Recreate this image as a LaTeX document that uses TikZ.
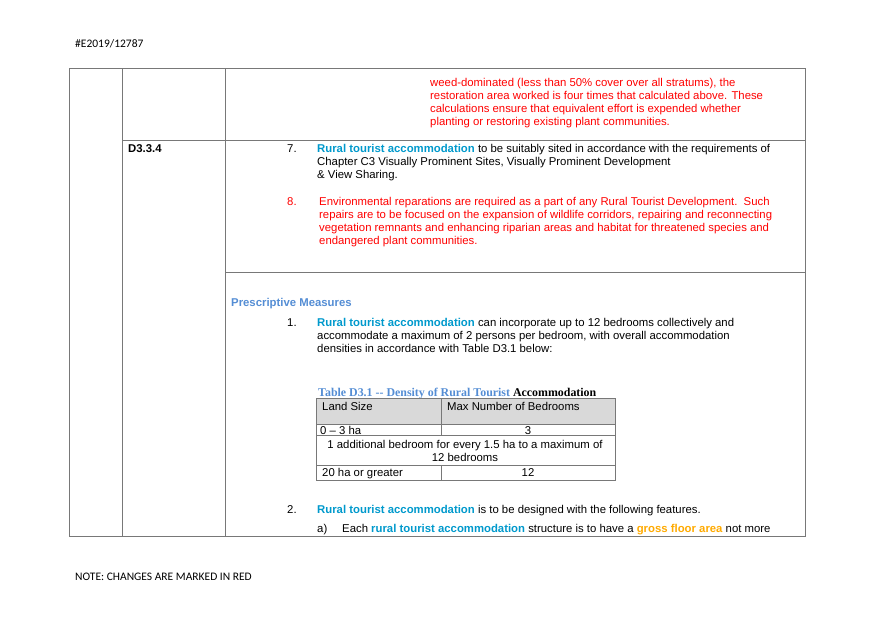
\documentclass[tikz,border=0pt]{standalone}
\usepackage{fontspec}
\setmainfont{Liberation Sans}
\newfontfamily\calfont{Carlito}
\newfontfamily\capfont{Liberation Serif}
\definecolor{redtxt}{RGB}{255,0,0}
\definecolor{bluetxt}{RGB}{0,153,204}
\definecolor{headblue}{RGB}{84,141,212}
\definecolor{goldtxt}{RGB}{255,170,0}
\definecolor{rulegray}{RGB}{120,120,120}
\definecolor{cellgray}{RGB}{217,217,217}
\newcommand{\rta}[1]{\textcolor{bluetxt}{\bfseries #1}}

\begin{document}
\begin{tikzpicture}[
    x=1pt, y=-1pt,
    txt/.style={anchor=base west, inner sep=0pt, font=\fontsize{11.35}{13}\selectfont},
    ctxt/.style={anchor=base, inner sep=0pt, font=\fontsize{11.35}{13}\selectfont},
    rule/.style={draw=rulegray, line width=0.7pt}
]
    \useasboundingbox (0,0) rectangle (875,619);

    % Page header and footer
    \node[txt, font=\calfont\fontsize{11.5}{13}\selectfont] (ref) at (75,47) {\#E2019/12787};
    \node[txt, font=\calfont\fontsize{11.5}{13}\selectfont] (note) at (75,580) {NOTE: CHANGES ARE MARKED IN RED};

    % Outer grid
    \draw[rule] (69,68) rectangle (805,536);
    \draw[rule] (122,68) -- (122,536);
    \draw[rule] (225,68) -- (225,536);
    \draw[rule] (122,140) -- (805,140);
    \draw[rule] (225,272) -- (805,272);

    % Top cell (red)
    \node[txt, text=redtxt] (w1) at (430,86) {weed-dominated (less than 50\% cover over all stratums), the};
    \node[txt, text=redtxt] (w2) at (430,99) {restoration area worked is four times that calculated above. These};
    \node[txt, text=redtxt] (w3) at (430,112) {calculations ensure that equivalent effort is expended whether};
    \node[txt, text=redtxt] (w4) at (430,125) {planting or restoring existing plant communities.};

    % D3.3.4
    \node[txt, font=\fontsize{11.35}{13}\selectfont\bfseries] (clause) at (128,152) {D3.3.4};
    \node[txt] (n7) at (287,152) {7.};
    \node[txt] (s1) at (317,152) {\rta{Rural tourist accommodation} to be suitably sited in accordance with the requirements of};
    \node[txt] (s2) at (317,165) {Chapter C3 Visually Prominent Sites, Visually Prominent Development};
    \node[txt] (s3) at (317,178) {\& View Sharing.};
    \node[txt, text=redtxt] (n8) at (287,205) {8.};
    \node[txt, text=redtxt] (e1) at (319,205) {Environmental reparations are required as a part of any Rural Tourist Development.\ \ Such};
    \node[txt, text=redtxt] (e2) at (319,218) {repairs are to be focused on the expansion of wildlife corridors, repairing and reconnecting};
    \node[txt, text=redtxt] (e3) at (319,231) {vegetation remnants and enhancing riparian areas and habitat for threatened species and};
    \node[txt, text=redtxt] (e4) at (319,244) {endangered plant communities.};

    % Prescriptive measures
    \node[txt, text=headblue, font=\fontsize{11.35}{13}\selectfont\bfseries] (pm) at (231,306) {Prescriptive Measures};
    \node[txt] (n1) at (287,326) {1.};
    \node[txt] (p1) at (317,326) {\rta{Rural tourist accommodation} can incorporate up to 12 bedrooms collectively and};
    \node[txt] (p2) at (317,339) {accommodate a maximum of 2 persons per bedroom, with overall accommodation};
    \node[txt] (p3) at (317,352) {densities in accordance with Table D3.1 below:};

    % Table D3.1
    \node[txt, font=\capfont\fontsize{11.9}{13}\selectfont\bfseries] (cap) at (318,396)
        {\textcolor{headblue}{Table D3.1 -- Density of Rural Tourist} Accommodation};
    \fill[cellgray] (316,398) rectangle (615,424);
    \draw[rule] (316,398) rectangle (615,480);
    \draw[rule] (316,424) -- (615,424);
    \draw[rule] (316,435) -- (615,435);
    \draw[rule] (316,465) -- (615,465);
    \draw[rule] (441,398) -- (441,435);
    \draw[rule] (441,465) -- (441,480);
    \node[txt] (h1) at (322,410) {Land Size};
    \node[txt] (h2) at (447,410) {Max Number of Bedrooms};
    \node[txt] (r1a) at (320,434) {0 -- 3 ha};
    \node[ctxt] (r1b) at (528,434) {3};
    \node[ctxt] (r2a) at (465,448) {1 additional bedroom for every 1.5 ha to a maximum of};
    \node[ctxt] (r2b) at (465,461) {12 bedrooms};
    \node[txt] (r3a) at (322,476) {20 ha or greater};
    \node[ctxt] (r3b) at (528,476) {12};

    % Item 2
    \node[txt] (n2) at (287,513) {2.};
    \node[txt] (q1) at (317,513) {\rta{Rural tourist accommodation} is to be designed with the following features.};
    \node[txt] (qa) at (317,532) {a)};
    \node[txt] (q2) at (342,532) {Each \rta{rural tourist accommodation} structure is to have a \textcolor{goldtxt}{\bfseries gross floor area} not more};
\end{tikzpicture}
\end{document}
